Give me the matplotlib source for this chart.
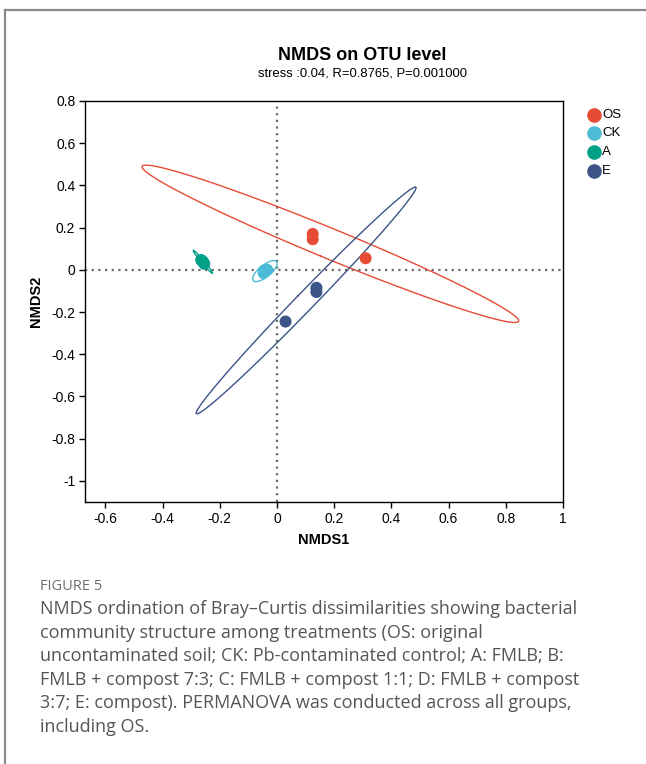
import numpy as np
import matplotlib
matplotlib.use("Agg")
import matplotlib.pyplot as plt
from matplotlib.lines import Line2D

# ---- data ----
groups = ["OS", "CK", "A", "E"]
colors = ["#E64B35", "#4DBBD5", "#00A087", "#3C5488"]
os_x = [0.125, 0.125, 0.31]
os_y = [0.17, 0.145, 0.055]
ck_x = [-0.0465, -0.0455, -0.0340]
ck_y = [-0.0151, -0.0032, 0.0003]
a_x = [-0.2649, -0.2581, -0.2540]
a_y = [0.0466, 0.0385, 0.0289]
e_x = [0.138, 0.138, 0.030]
e_y = [-0.085, -0.105, -0.245]
xs = [os_x, ck_x, a_x, e_x]
ys = [os_y, ck_y, a_y, e_y]
xticks = [-0.6, -0.4, -0.2, 0, 0.2, 0.4, 0.6, 0.8, 1]
yticks = [0.8, 0.6, 0.4, 0.2, 0, -0.2, -0.4, -0.6, -0.8, -1]

title = "NMDS on OTU level"
subtitle = "stress :0.04, R=0.8765, P=0.001000"
caption_head = "FIGURE 5"
caption_lines = [
    "NMDS ordination of Bray\u2013Curtis dissimilarities showing bacterial",
    "community structure among treatments (OS: original",
    "uncontaminated soil; CK: Pb-contaminated control; A: FMLB; B:",
    "FMLB + compost 7:3; C: FMLB + compost 1:1; D: FMLB + compost",
    "3:7; E: compost). PERMANOVA was conducted across all groups,",
    "including OS.",
]


def conf_ellipse(x, y, level=0.95, npts=300):
    x = np.asarray(x, float)
    y = np.asarray(y, float)
    n = len(x)
    d = n - 1
    fq = d / 2.0 * ((1 - level) ** (-2.0 / d) - 1)
    r = np.sqrt(2 * fq)
    cov = np.cov(x, y)
    vals, vecs = np.linalg.eigh(cov)
    vals = np.clip(vals, 0, None)
    t = np.linspace(0, 2 * np.pi, npts)
    circ = np.vstack([np.cos(t), np.sin(t)])
    pts = vecs @ (np.sqrt(vals)[:, None] * circ) * r
    return pts[0] + x.mean(), pts[1] + y.mean()


W, H = 646, 764
fig = plt.figure(figsize=(W / 100, H / 100), dpi=100)
fig.patch.set_facecolor("white")

font = ["Liberation Sans", "DejaVu Sans"]
cap_font = ["Open Sans", "DejaVu Sans"]

# frame lines (card border)
fig.add_artist(Line2D([5 / W, 1], [1 - 10 / H, 1 - 10 / H], color="#8a8a8a", lw=1.6))
fig.add_artist(Line2D([5 / W, 5 / W], [0, 1 - 10 / H], color="#8a8a8a", lw=1.6))

ax = fig.add_axes([85 / W, (H - 502) / H, 478 / W, 401 / H])
ax.set_xlim(-0.671, 1.0)
ax.set_ylim(-1.1, 0.8)

ax.axvline(0, color="#6b6b6b", lw=1.6, ls=(0, (1, 2)), zorder=1)
ax.axhline(0, color="#6b6b6b", lw=1.6, ls=(0, (1, 2)), zorder=1)

for g, c, x, y in zip(groups, colors, xs, ys):
    ex, ey = conf_ellipse(x, y)
    ax.plot(ex, ey, color=c, lw=1.0, zorder=2)
    ax.scatter(x, y, s=75, color=c, edgecolors="none", zorder=3)

ax.set_xticks(xticks)
ax.set_xticklabels([("%g" % v) for v in xticks])
ax.set_yticks(yticks)
ax.set_yticklabels([("%g" % v) for v in yticks])
ax.tick_params(direction="out", length=4, width=1, labelsize=10, colors="black", pad=3)
for lab in ax.get_xticklabels() + ax.get_yticklabels():
    lab.set_family(font)
for s in ax.spines.values():
    s.set_linewidth(1.0)
    s.set_color("black")

ax.set_xlabel("NMDS1", fontsize=10.5, fontweight="bold", family=font, labelpad=5)
ax.set_ylabel("NMDS2", fontsize=10.5, fontweight="bold", family=font, labelpad=6)

fig.text(362 / W, 1 - 56 / H, title, ha="center", va="center",
         fontsize=13, fontweight="bold", family=font)
fig.text(362 / W, 1 - 74 / H, subtitle, ha="center", va="center",
         fontsize=9.4, family=font)

# legend
leg_y = [115, 133, 152, 171]
for g, c, yy in zip(groups, colors, leg_y):
    fig.add_artist(Line2D([594 / W], [1 - yy / H], marker="o", markersize=10.5,
                          color=c, markeredgecolor="none", linestyle="none"))
    fig.text(602 / W, 1 - yy / H, g, ha="left", va="center", fontsize=9.5, family=font)

# caption
fig.text(40 / W, 1 - 586 / H, caption_head, ha="left", va="center",
         fontsize=10.5, color="#6e6e6e", family=cap_font)
for i, line in enumerate(caption_lines):
    fig.text(40 / W, 1 - (609 + i * 23.6) / H, line, ha="left", va="center",
             fontsize=13.0, color="#555555", family=cap_font)

fig.savefig("out.png", dpi=100, facecolor="white")
